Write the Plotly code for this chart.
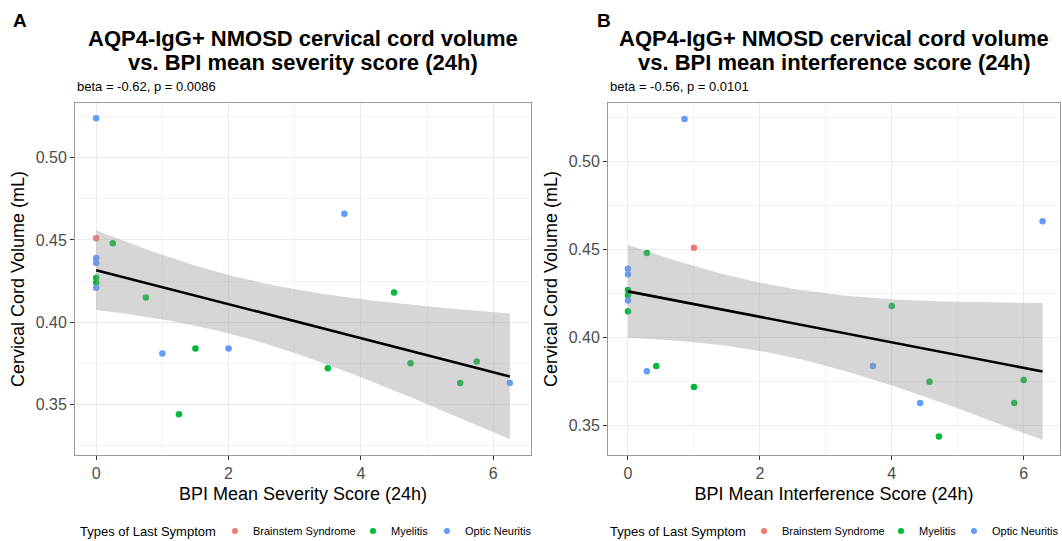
import numpy as np
import plotly.graph_objects as go

# ---- data ----
groups = ["Brainstem Syndrome", "Myelitis", "Optic Neuritis"]
group_colors = ["#F8766D", "#00BA38", "#619CFF"]

symptom = ["Optic Neuritis", "Brainstem Syndrome", "Myelitis", "Optic Neuritis", "Optic Neuritis",
           "Myelitis", "Myelitis", "Optic Neuritis", "Myelitis", "Optic Neuritis",
           "Myelitis", "Optic Neuritis", "Myelitis", "Optic Neuritis", "Myelitis",
           "Myelitis", "Myelitis", "Myelitis", "Myelitis", "Optic Neuritis"]
cord_volume = [0.524, 0.451, 0.448, 0.439, 0.436,
               0.427, 0.424, 0.421, 0.415, 0.381,
               0.384, 0.384, 0.344, 0.466, 0.418,
               0.372, 0.375, 0.376, 0.363, 0.363]
severity = [0.0, 0.0, 0.25, 0.0, 0.0,
            0.0, 0.0, 0.0, 0.75, 1.0,
            1.5, 2.0, 1.25, 3.75, 4.5,
            3.5, 4.75, 5.75, 5.5, 6.25]
interference_y = [0.524, 0.451, 0.448, 0.439, 0.436,
                  0.427, 0.424, 0.421, 0.415, 0.381,
                  0.384, 0.384, 0.344, 0.466, 0.418,
                  0.372, 0.375, 0.376, 0.363, 0.363]
interference = [0.857, 1.0, 0.286, 0.0, 0.0,
                0.0, 0.0, 0.0, 0.0, 0.286,
                0.429, 3.714, 4.714, 6.286, 4.0,
                1.0, 4.571, 6.0, 5.857, 4.429]
interference_sym = ["Optic Neuritis", "Brainstem Syndrome", "Myelitis", "Optic Neuritis", "Optic Neuritis",
                    "Myelitis", "Myelitis", "Optic Neuritis", "Myelitis", "Optic Neuritis",
                    "Myelitis", "Optic Neuritis", "Myelitis", "Optic Neuritis", "Myelitis",
                    "Myelitis", "Myelitis", "Myelitis", "Myelitis", "Optic Neuritis"]

title_line1 = ["AQP4-IgG+ NMOSD cervical cord volume", "AQP4-IgG+ NMOSD cervical cord volume"]
title_line2 = ["vs. BPI mean severity score (24h)", "vs. BPI mean interference score (24h)"]
subtitles = ["beta = -0.62, p = 0.0086", "beta = -0.56, p = 0.0101"]
x_titles = ["BPI Mean Severity Score (24h)", "BPI Mean Interference Score (24h)"]
y_title = "Cervical Cord Volume (mL)"
legend_title = "Types of Last Symptom"
panel_tags = ["A", "B"]
T_975_DF18 = 2.100922

W, H = 1062, 541
FONT = "Liberation Sans, Arial, Helvetica, sans-serif"


def lm_band(x, y, n_grid=80):
    x = np.asarray(x, float)
    y = np.asarray(y, float)
    n = len(x)
    b1, b0 = np.polyfit(x, y, 1)
    resid = y - (b0 + b1 * x)
    s = np.sqrt(np.sum(resid ** 2) / (n - 2))
    xbar = x.mean()
    sxx = np.sum((x - xbar) ** 2)
    xg = np.linspace(x.min(), x.max(), n_grid)
    yg = b0 + b1 * xg
    se = s * np.sqrt(1.0 / n + (xg - xbar) ** 2 / sxx)
    return xg, yg, yg - T_975_DF18 * se, yg + T_975_DF18 * se


fig = go.Figure()

panels = [
    dict(x=severity, y=cord_volume, sym=symptom, xa="x", ya="y"),
    dict(x=interference, y=interference_y, sym=interference_sym, xa="x2", ya="y2"),
]

for p in panels:
    for g, c in zip(groups, group_colors):
        xs = [xv for xv, s in zip(p["x"], p["sym"]) if s == g]
        ys = [yv for yv, s in zip(p["y"], p["sym"]) if s == g]
        fig.add_trace(go.Scatter(x=xs, y=ys, mode="markers", name=g,
                                 marker=dict(color=c, size=6.5, line=dict(width=0)),
                                 xaxis=p["xa"], yaxis=p["ya"], showlegend=False))
    xg, yg, lo, hi = lm_band(p["x"], p["y"])
    fig.add_trace(go.Scatter(x=np.concatenate([xg, xg[::-1]]), y=np.concatenate([hi, lo[::-1]]),
                             mode="lines", fill="toself", fillcolor="rgba(153,153,153,0.4)",
                             line=dict(width=0), hoverinfo="skip", showlegend=False,
                             xaxis=p["xa"], yaxis=p["ya"]))
    fig.add_trace(go.Scatter(x=xg, y=yg, mode="lines", line=dict(color="black", width=2.6),
                             showlegend=False, xaxis=p["xa"], yaxis=p["ya"]))

# layout geometry (pixels -> paper)
ya_dom = [(H - 455) / H, (H - 103) / H]
xa_dom = [75 / W, 531 / W]
xb_dom = [608 / W, 1060 / W]

axis_common = dict(showline=True, mirror=True, linecolor="#9a9a9a", linewidth=1,
                   ticks="outside", ticklen=4, tickcolor="#333333", tickwidth=1,
                   showgrid=True, gridcolor="#ebebeb", gridwidth=1, zeroline=False,
                   automargin=False,
                   tickfont=dict(family=FONT, size=16, color="#4d4d4d"))

fig.update_layout(
    width=W, height=H, margin=dict(l=0, r=0, t=0, b=0, autoexpand=False),
    paper_bgcolor="white", plot_bgcolor="white",
    font=dict(family=FONT, color="black"),
    showlegend=False,
    xaxis=dict(domain=xa_dom, anchor="y", range=[-0.32, 6.57], tick0=0, dtick=2,
               minor=dict(showgrid=True, gridcolor="#f3f3f3", dtick=1, tick0=0, ticks=""),
               title=dict(text=x_titles[0], font=dict(size=18), standoff=6), **axis_common),
    yaxis=dict(domain=ya_dom, anchor="x", range=[0.3192, 0.5333], tick0=0, dtick=0.05,
               tickformat=".2f",
               minor=dict(showgrid=True, gridcolor="#f3f3f3", dtick=0.025, tick0=0, ticks=""),
               title=dict(text=y_title, font=dict(size=18), standoff=6), **axis_common),
    xaxis2=dict(domain=xb_dom, anchor="y2", range=[-0.303, 6.55], tick0=0, dtick=2,
                minor=dict(showgrid=True, gridcolor="#f3f3f3", dtick=1, tick0=0, ticks=""),
                title=dict(text=x_titles[1], font=dict(size=18), standoff=6), **axis_common),
    yaxis2=dict(domain=ya_dom, anchor="x2", range=[0.3335, 0.533], tick0=0, dtick=0.05,
                tickformat=".2f",
                minor=dict(showgrid=True, gridcolor="#f3f3f3", dtick=0.025, tick0=0, ticks=""),
                title=dict(text=y_title, font=dict(size=18), standoff=6), **axis_common),
)

annotations = []
shapes = []
centers = [(xa_dom[0] + xa_dom[1]) / 2, (xb_dom[0] + xb_dom[1]) / 2]
lefts = [xa_dom[0], xb_dom[0]]
tag_x = [20 / W, 604 / W]
# manual legend layout (pixel offsets)
leg_y = 1 - 531 / H
leg_title_x = [78, 608]
leg_dot_x = [[235, 373, 447], [764, 901, 974]]
for i in range(2):
    annotations.append(dict(text="<b>" + title_line1[i] + "</b>", x=centers[i], y=1 - 38 / H,
                            xref="paper", yref="paper", xanchor="center", yanchor="middle",
                            showarrow=False, font=dict(size=22, family=FONT, color="black")))
    annotations.append(dict(text="<b>" + title_line2[i] + "</b>", x=centers[i], y=1 - 62 / H,
                            xref="paper", yref="paper", xanchor="center", yanchor="middle",
                            showarrow=False, font=dict(size=22, family=FONT, color="black")))
    annotations.append(dict(text=subtitles[i], x=lefts[i], y=1 - 86 / H,
                            xref="paper", yref="paper", xanchor="left", yanchor="middle",
                            showarrow=False, font=dict(size=13, family=FONT, color="black")))
    annotations.append(dict(text="<b>" + panel_tags[i] + "</b>", x=tag_x[i], y=1 - 20 / H,
                            xref="paper", yref="paper", xanchor="center", yanchor="middle",
                            showarrow=False, font=dict(size=19, family=FONT, color="black")))
    annotations.append(dict(text=legend_title, x=leg_title_x[i] / W, y=leg_y,
                            xref="paper", yref="paper", xanchor="left", yanchor="middle",
                            showarrow=False, font=dict(size=13, family=FONT, color="black")))
    for g, c, dx in zip(groups, group_colors, leg_dot_x[i]):
        shapes.append(dict(type="circle", xref="paper", yref="paper",
                           x0=(dx - 3) / W, x1=(dx + 3) / W,
                           y0=leg_y - 3 / H, y1=leg_y + 3 / H,
                           fillcolor=c, line=dict(width=0)))
        annotations.append(dict(text=g, x=(dx + 16) / W, y=leg_y,
                                xref="paper", yref="paper", xanchor="left", yanchor="middle",
                                showarrow=False, font=dict(size=11, family=FONT, color="black")))
fig.update_layout(annotations=annotations, shapes=shapes)

fig.write_html("out.html", config={"displayModeBar": False},
               post_script="document.body.style.margin='0';document.body.style.overflow='hidden';")
